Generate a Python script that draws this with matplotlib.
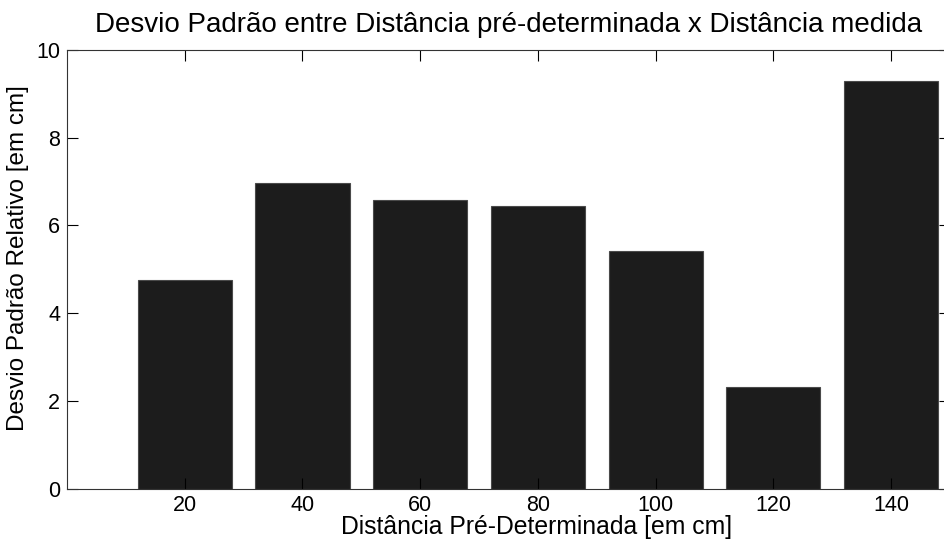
import matplotlib
matplotlib.use("Agg")
import matplotlib.pyplot as plt

# desvio padrão relativo por distância pré-determinada
distancias = [20, 40, 60, 80, 100, 120, 140]
desvios = [4.76, 6.97, 6.58, 6.45, 5.42, 2.33, 9.29]
yticks = [0, 2, 4, 6, 8, 10]

plt.rcParams["font.family"] = ["Liberation Sans", "DejaVu Sans"]

fig = plt.figure(figsize=(9.45, 5.41), dpi=100)
ax = fig.add_axes([67 / 945, 52 / 541, (950 - 67) / 945, (489 - 49.7) / 541])

ax.bar(distancias, desvios, width=16, color="#1c1c1c", edgecolor="#4a4a4a", linewidth=0.8)

ax.set_xlim(0, 150)
ax.set_ylim(0, 10)
ax.set_xticks(distancias)
ax.set_yticks(yticks)
ax.tick_params(direction="in", top=True, right=True, length=8, width=0.8,
               labelsize=15.5, pad=5, colors="#000000")
ax.tick_params(axis="x", pad=4)
for s in ax.spines.values():
    s.set_linewidth(0.8)
    s.set_color("#333333")

ax.set_title("Desvio Padrão entre Distância pré-determinada x Distância medida",
             fontsize=20, pad=13)
ax.set_xlabel("Distância Pré-Determinada [em cm]", fontsize=17.8)
ax.xaxis.set_label_coords(0.532, -0.059, transform=ax.transAxes)
ax.xaxis.label.set_va("top")
ax.set_ylabel("Desvio Padrão Relativo [em cm]", fontsize=17.5)
ax.yaxis.set_label_coords(-0.043, 0.525)

fig.savefig("out.png", dpi=100)
